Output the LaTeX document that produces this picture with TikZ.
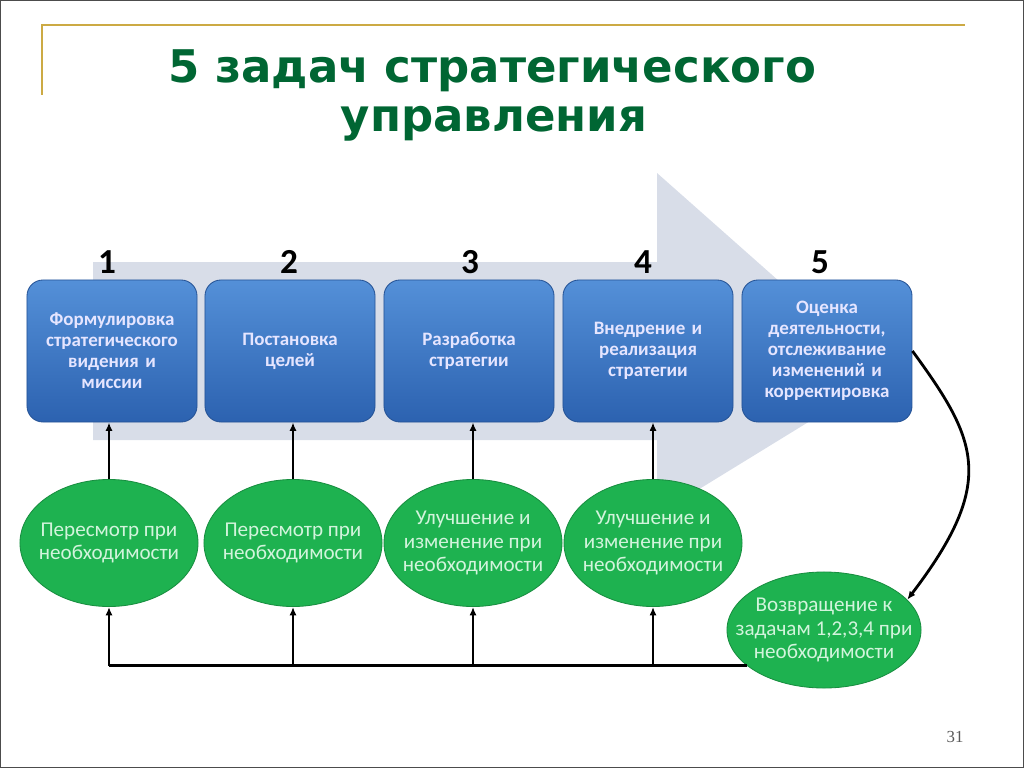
\documentclass[tikz,border=0pt]{standalone}
\usepackage{fontspec}
\setmainfont{Carlito}
\newfontfamily\titlefont{DejaVu Sans}
\newfontfamily\pagefont{Liberation Serif}
\usepackage{xcolor}
\usepackage{tikz}
\usetikzlibrary{shapes.geometric, arrows.meta}

\definecolor{titlegreen}{RGB}{0,102,51}
\definecolor{framegold}{RGB}{204,170,68}
\definecolor{arrowgray}{RGB}{216,221,232}
\definecolor{boxtop}{RGB}{84,144,216}
\definecolor{boxbot}{RGB}{44,98,176}
\definecolor{ovalgreen}{RGB}{30,178,80}
\definecolor{ovaltext}{RGB}{210,244,220}

\tikzset{
  heading/.style={anchor=base, text=titlegreen, font=\titlefont\bfseries\fontsize{32}{38}\selectfont},
  task/.style={draw=boxbot!85!black, line width=0.6pt, rounded corners=0.4cm,
    top color=boxtop, bottom color=boxbot, minimum width=4.25cm, minimum height=3.55cm,
    text width=3.95cm, align=center, text=white!90!blue, font=\bfseries\fontsize{13.5}{15}\selectfont},
  oval/.style={ellipse, draw=ovalgreen!80!black, line width=0.6pt, fill=ovalgreen,
    minimum width=4.45cm, minimum height=3.175cm, inner xsep=-18pt, inner ysep=0pt,
    align=center, text=ovaltext, font=\fontsize{15}{17}\selectfont},
  stepnum/.style={anchor=base, font=\bfseries\fontsize{25}{25}\selectfont},
  wire/.style={line width=2pt},
  link/.style={line width=2pt, -{Latex[length=6pt,width=5pt]}},
}

\begin{document}
\begin{tikzpicture}[x=0.025cm, y=-0.025cm]
            \useasboundingbox (0,0) rectangle (1024,768);
            \draw[gray!60!black, line width=0.8pt] (0.5,0.5) rectangle (1023.5,767.5);
            \draw[framegold, line width=1.5pt] (42,95) -- (42,25) -- (965,25);

            \node[heading] (t1) at (492,83) {5 задач стратегического};
            \node[heading] (t2) at (494,132) {управления};

            % big arrow behind the tasks
            \fill[arrowgray] (93,262) -- (657,262) -- (657,173) -- (885,375)
                -- (657,515) -- (657,440) -- (93,440) -- cycle;

            \node[stepnum] (n1) at (107,273) {1};
            \node[stepnum] (n2) at (289,273) {2};
            \node[stepnum] (n3) at (470,273) {3};
            \node[stepnum] (n4) at (643,273) {4};
            \node[stepnum] (n5) at (820,273) {5};

            \node[task] (b1) at (112,351) {Формулировка\\ стратегического\\ видения и\\ миссии};
            \node[task] (b2) at (290,351) {Постановка\\ целей};
            \node[task] (b3) at (469,351) {Разработка\\ стратегии};
            \node[task] (b4) at (648,351) {Внедрение и\\ реализация\\ стратегии};
            \node[task] (b5) at (827,351) {Оценка\\ деятельности,\\ отслеживание\\ изменений и\\ корректировка};

            \node[oval] (e1) at (109,543) {Пересмотр при\\ необходимости};
            \node[oval] (e2) at (293,543) {Пересмотр при\\ необходимости};
            \node[oval] (e3) at (473,543) {Улучшение и\\ изменение при\\ необходимости};
            \node[oval] (e4) at (653,543) {Улучшение и\\ изменение при\\ необходимости};
            \node[oval, minimum width=4.85cm, minimum height=2.9cm] (r) at (824,630) {Возвращение к\\ задачам 1,2,3,4 при\\ необходимости};

            \node[anchor=base, text=gray!70!black, font=\pagefont\fontsize{12}{12}\selectfont] (pg) at (955,742) {31};

            \draw[link] (e1.north) -- (e1.north |- b1.south); % e1-b1
            \draw[link] (e2.north) -- (e2.north |- b2.south); % e2-b2
            \draw[link] (e3.north) -- (e3.north |- b3.south); % e3-b3
            \draw[link] (e4.north) -- (e4.north |- b4.south); % e4-b4

            \draw[link] (b5.east) .. controls +(65,89) and +(90,-118) .. (r.20); % b5-r

            \draw[wire] (r.205) -- (e1.south |- r.205); % r back to 1-4
            \draw[link] (e1.south |- r.205) -- (e1.south);
            \draw[link] (e2.south |- r.205) -- (e2.south);
            \draw[link] (e3.south |- r.205) -- (e3.south);
            \draw[link] (e4.south |- r.205) -- (e4.south);
        \end{tikzpicture}
\end{document}
